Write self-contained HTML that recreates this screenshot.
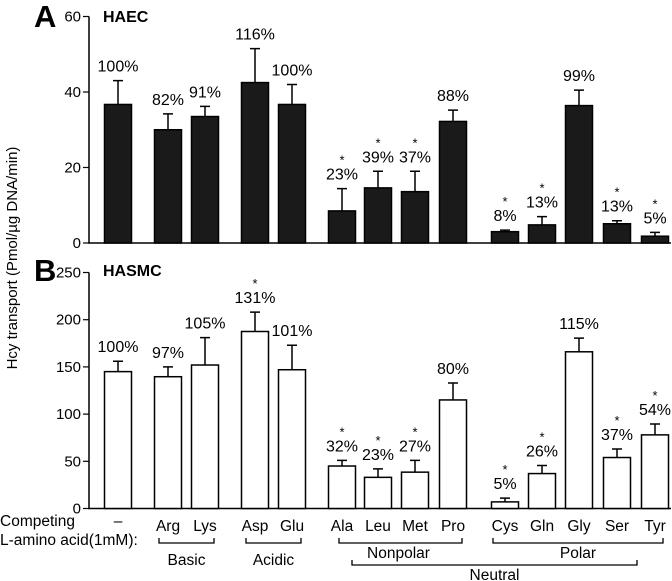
<!DOCTYPE html>
<html><head><meta charset="utf-8"><style>
html,body{margin:0;padding:0;background:#fff;}
svg{display:block;font-family:"Liberation Sans",Arial,sans-serif;}
</style></head><body>
<svg id="chart" width="672" height="581" viewBox="0 0 672 581" xmlns="http://www.w3.org/2000/svg">
<g id="static" fill="#000">
  <text x="34" y="27" font-size="31" font-weight="bold">A</text>
  <text x="103" y="22" font-size="16" font-weight="bold">HAEC</text>
  <text x="34" y="281" font-size="31" font-weight="bold">B</text>
  <text x="103" y="276" font-size="16" font-weight="bold">HASMC</text>
  <text transform="translate(17,258) rotate(-90)" text-anchor="middle" font-size="15">Hcy transport (Pmol/µg DNA/min)</text>
  <text x="0" y="526" font-size="15.5">Competing</text>
  <text x="0" y="545" font-size="15.5">L-amino acid(1mM):</text>
</g>
<g id="axes"></g>
<g id="marks"></g>
<g id="groups"></g>
</svg>
<script>
const categories = ["–","Arg","Lys","Asp","Glu","Ala","Leu","Met","Pro","Cys","Gln","Gly","Ser","Tyr"];
const haecValues = [36.7,30,33.5,42.5,36.7,8.5,14.6,13.6,32.2,3,4.8,36.4,5.1,1.8];
const haecErrors = [6.3,4.2,2.7,9,5.3,5.9,4.4,5.4,3,0.4,2.2,4.1,0.8,1];
const haecLabels = ["100%","82%","91%","116%","100%","23%","39%","37%","88%","8%","13%","99%","13%","5%"];
const haecSig = [0,0,0,0,0,1,1,1,0,1,1,0,1,1];
const hasmcValues = [145,139.6,152,187.5,147,45,33,38.5,115,7,37,166,54,78];
const hasmcErrors = [11,10.4,29,20.5,26,6,9,12.5,18,4,8.5,14.5,9,11.5];
const hasmcLabels = ["100%","97%","105%","131%","101%","32%","23%","27%","80%","5%","26%","115%","37%","54%"];
const hasmcSig = [0,0,0,1,0,1,1,1,0,1,1,0,1,1];
const haecTicks = [0,20,40,60];
const hasmcTicks = [0,50,100,150,200,250];
const groupNames = ["Basic","Acidic","Nonpolar","Polar","Neutral"];
const groupStart = [1,3,5,9,5];
const groupEnd = [2,4,8,13,13];

const NS="http://www.w3.org/2000/svg";
const centers=[118,168,205,255,292,342,378,415,453,505,542,579,617,655];
function xPos(i){return centers[i];}
const yA=v=>243-v*3.775;
const yB=v=>508.5-v*0.944;
const BW=27;
function mk(tag,attrs,parent,text){const e=document.createElementNS(NS,tag);for(const k in attrs)e.setAttribute(k,attrs[k]);if(text!==undefined)e.textContent=text;parent.appendChild(e);return e;}
const axes=document.getElementById('axes'),marks=document.getElementById('marks'),groups=document.getElementById('groups');

function drawAxis(y,ticks,top,base,name){
  let l=mk('line',{x1:89,y1:top,x2:89,y2:base,stroke:'#000','stroke-width':1.5},axes);
  
  
  let b=mk('line',{x1:88,y1:base,x2:671,y2:base,stroke:'#000','stroke-width':1.5},axes);
  
  
  ticks.forEach(t=>{
    let tk=mk('line',{x1:83,y1:y(t),x2:89,y2:y(t),stroke:'#000','stroke-width':1.2},axes);
    
    
    let tx=mk('text',{x:81,y:y(t)+5,'text-anchor':'end','font-size':15},axes,String(t));
    
    
  });
}
drawAxis(yA,haecTicks,yA(60),243,'haec');
drawAxis(yB,hasmcTicks,yB(250),508.5,'hasmc');

function drawBars(vals,errs,labels,sig,y,base,fill,name){
  vals.forEach((v,i)=>{
    const cx=xPos(i),top=y(v),et=y(v+errs[i]);
    let r=mk('rect',{x:cx-BW/2,y:top,width:BW,height:base-top,fill:fill,stroke:'#000','stroke-width':1.5},marks);
    
    
    let e=mk('path',{d:`M${cx},${top}V${et}M${cx-5},${et}H${cx+5}`,stroke:'#000','stroke-width':1.5,fill:'none'},marks);
    
    
    let t=mk('text',{x:cx,y:et-9,'text-anchor':'middle','font-size':16},marks,labels[i]);
    
    
    if(sig[i]){
      let s=mk('text',{x:cx,y:et-24,'text-anchor':'middle','font-size':13},marks,'*');
      
      
    }
  });
}
drawBars(haecValues,haecErrors,haecLabels,haecSig,yA,243,'#1a1a1a','haec');
drawBars(hasmcValues,hasmcErrors,hasmcLabels,hasmcSig,yB,508.5,'#fff','hasmc');

categories.forEach((c,i)=>{
  let t=mk('text',{x:xPos(i),y:i===0?526:531,'text-anchor':'middle','font-size':15.5},groups,c);
  
  
});
groupNames.forEach((g,k)=>{
  const neutral=g==="Neutral";
  const x1=xPos(groupStart[k])-(neutral?-10:9)+(g==="Nonpolar"?6:0)-(g==="Polar"?3:0);
  const x2=xPos(groupEnd[k])+(neutral?-18:9)-(g==="Polar"?1:0);
  const yt=neutral?560:538, yb=neutral?565:543;
  let p=mk('path',{d:`M${x1},${yt}V${yb}H${x2}V${yt}`,stroke:'#000','stroke-width':1.3,fill:'none'},groups);
  
  
  let ty=neutral?580:(g==="Nonpolar"||g==="Polar"?558:565);
  let tx=(g==="Nonpolar"||g==="Polar")?(x1+x2)/2+(g==="Nonpolar"?-2:0):(x1+x2)/2;
  let t=mk('text',{x:tx,y:ty,'text-anchor':'middle','font-size':15.5},groups,g);
  
  
});
</script>
</body></html>
